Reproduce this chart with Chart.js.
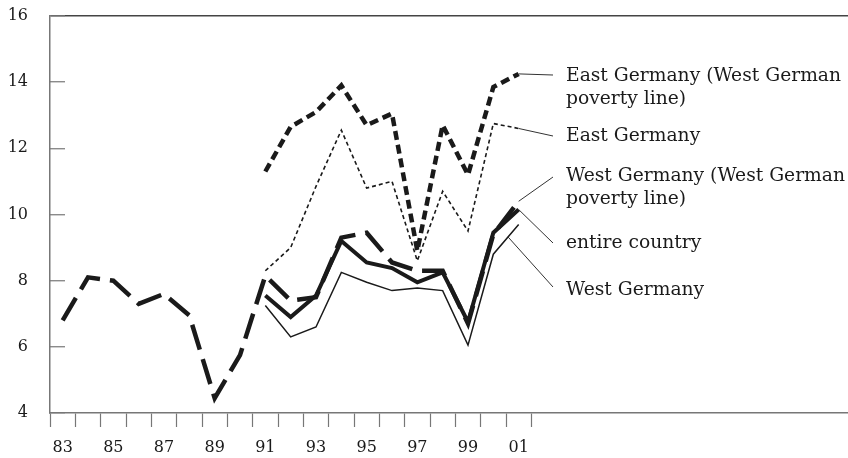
<!DOCTYPE html>
<html>
<head>
<meta charset="utf-8">
<script src="https://cdn.jsdelivr.net/npm/chart.js@4"></script>
<style>
  html, body { margin: 0; padding: 0; background: #fff; }
  #wrap { width: 848px; height: 458px; }
</style>
</head>
<body>
<div id="wrap"><canvas id="povertyChart"></canvas></div>
<script>
// Poverty rates, Germany 1983-2001
const years = ['83','84','85','86','87','88','89','90','91','92','93','94','95','96','97','98','99','00','01'];

const eastWestLine  = [null, null, null, null, null, null, null, null, 11.3, 12.65, 13.1, 13.9, 12.7, 13.05, 8.9, 12.7, 11.2, 13.85, 14.25];
const eastGermany   = [null, null, null, null, null, null, null, null, 8.3, 9.0, 10.85, 12.55, 10.8, 11.0, 8.6, 10.7, 9.5, 12.75, 12.6];
const westWestLine  = [6.8, 8.1, 8.0, 7.3, 7.6, 6.95, 4.45, 5.75, 8.15, 7.4, 7.5, 9.3, 9.45, 8.55, 8.3, 8.3, 6.7, 9.4, 10.4];
const entireCountry = [null, null, null, null, null, null, null, null, 7.55, 6.9, 7.55, 9.2, 8.55, 8.38, 7.95, 8.25, 6.75, 9.45, 10.15];
const westGermany   = [null, null, null, null, null, null, null, null, 7.25, 6.3, 6.6, 8.25, 7.95, 7.7, 7.78, 7.7, 6.05, 8.8, 9.7];

const seriesNames = [
  ['East Germany (West German', 'poverty line)'],
  ['East Germany'],
  ['West Germany (West German', 'poverty line)'],
  ['entire country'],
  ['West Germany']
];

const yTicks = [4, 6, 8, 10, 12, 14, 16];

const ink = '#1a1a1a';
const axisGray = '#777';
const serif = "'DejaVu Serif', serif";

const toPoints = (arr) => arr.map((v, i) => ({ x: i, y: v }));

// text labels with leader lines at the right end of the lines
const labelPlugin = {
  id: 'seriesLabels',
  afterDatasetsDraw(chart) {
    const ctx = chart.ctx;
    const textX = 566;
    const lineEndX = 553;
    const labelY = [76, 136, 176, 243, 290];
    const leadEndY = [75, 136, 177, 243, 287];
    ctx.save();
    ctx.strokeStyle = '#333';
    ctx.lineWidth = 1;
    ctx.fillStyle = ink;
    ctx.font = '18.7px ' + serif;
    ctx.textBaseline = 'middle';
    seriesNames.forEach((lines, i) => {
      const meta = chart.getDatasetMeta(i);
      const last = meta.data[meta.data.length - 1];
      let sx = last.x, sy = last.y;
      if (i === 4) {
        // West Germany leader starts partway along the last segment
        const prev = meta.data[meta.data.length - 2];
        sx = prev.x + (last.x - prev.x) * 0.58;
        sy = prev.y + (last.y - prev.y) * 0.58;
      }
      ctx.beginPath();
      ctx.moveTo(sx, sy);
      ctx.lineTo(lineEndX, leadEndY[i]);
      ctx.stroke();
      lines.forEach((t, j) => ctx.fillText(t, textX, labelY[i] + j * 23));
    });
    ctx.restore();
  }
};

const chart = new Chart(document.getElementById('povertyChart'), {
  type: 'line',
  data: {
    datasets: [
      { label: seriesNames[0].join(' '), data: toPoints(eastWestLine), borderColor: ink, borderWidth: 4.5, borderDash: [9, 5], order: 2 },
      { label: seriesNames[1].join(' '), data: toPoints(eastGermany), borderColor: ink, borderWidth: 1.6, borderDash: [4, 3], order: 3 },
      { label: seriesNames[2].join(' '), data: toPoints(westWestLine), borderColor: ink, borderWidth: 4.5, borderDash: [26, 10], order: 1 },
      { label: seriesNames[3].join(' '), data: toPoints(entireCountry), borderColor: ink, borderWidth: 4, order: 0 },
      { label: seriesNames[4].join(' '), data: toPoints(westGermany), borderColor: ink, borderWidth: 1.5, order: 4 }
    ]
  },
  options: {
    responsive: true,
    maintainAspectRatio: false,
    animation: false,
    layout: { padding: { top: 16, right: 0, left: 0, bottom: 0 } },
    elements: {
      point: { radius: 0 },
      line: { tension: 0, borderJoinStyle: 'miter', borderCapStyle: 'butt', fill: false }
    },
    plugins: {
      legend: { display: false },
      tooltip: { enabled: false }
    },
    scales: {
      x: {
        type: 'linear',
        min: -0.5,
        max: 31,
        afterBuildTicks: (scale) => {
          const t = [];
          for (let v = -0.5; v <= years.length - 0.5; v += 0.5) t.push({ value: v });
          scale.ticks = t;
        },
        afterFit: (scale) => {
          scale.height = 45;
          scale.paddingLeft = 0;
          scale.paddingRight = 0;
        },
        border: { color: axisGray, width: 1.5 },
        grid: {
          drawOnChartArea: false,
          tickLength: 14,
          tickWidth: 1.2,
          tickColor: (c) => (c.tick && Number.isInteger(c.tick.value)) ? 'transparent' : axisGray
        },
        ticks: {
          autoSkip: false,
          maxRotation: 0,
          padding: 11,
          color: ink,
          font: { family: serif, size: 16 },
          callback: (v) => (Number.isInteger(v) && v % 2 === 0 && years[v]) ? years[v] : ''
        }
      },
      y: {
        min: yTicks[0],
        max: yTicks[yTicks.length - 1],
        afterBuildTicks: (scale) => { scale.ticks = yTicks.map(v => ({ value: v })); },
        afterFit: (scale) => {
          scale.width = 50;
          scale.paddingTop = 0;
          scale.paddingBottom = 0;
        },
        border: { color: axisGray, width: 1.5 },
        grid: {
          drawOnChartArea: true,
          color: (c) => (c.tick && c.tick.value === 16) ? '#444' : 'transparent',
          lineWidth: 1.5,
          tickLength: -15,
          tickWidth: 1.2,
          tickColor: axisGray
        },
        ticks: {
          padding: 37,
          color: ink,
          font: { family: serif, size: 16 }
        }
      }
    }
  },
  plugins: [labelPlugin]
});
</script>
</body>
</html>
